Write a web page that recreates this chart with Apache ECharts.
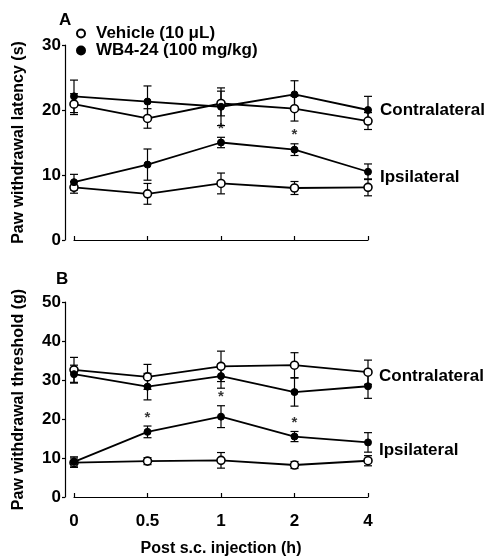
<!DOCTYPE html>
<html lang="en">
<head>
    <meta charset="UTF-8">
    <title>Paw withdrawal</title>
    <script src="https://cdn.jsdelivr.net/npm/echarts@6.0.0/dist/echarts.min.js"></script>
    <style>
        body { margin: 0; background: #fff; }
    </style>
</head>
<body>
    <div id="chart" style="width: 493px; height: 558px;"></div>

    <script>
        var chart = echarts.init(document.getElementById('chart'));

        var tempos = ['0', '0.5', '1', '2', '4'];

        // painel A - latencia (s)
        var veiContraA = [20.9, 18.7, 21.0, 20.2, 18.3];
        var veiContraAErr = [1.6, 1.5, 1.9, 1.9, 1.3];
        var wbContraA = [22.1, 21.3, 20.5, 22.4, 20.0];
        var wbContraAErr = [2.5, 2.4, 2.9, 2.1, 2.1];
        var veiIpsiA = [8.1, 7.1, 8.7, 8.0, 8.1];
        var veiIpsiAErr = [0.9, 1.6, 1.6, 1.0, 1.3];
        var wbIpsiA = [8.9, 11.6, 15.0, 13.9, 10.5];
        var wbIpsiAErr = [1.2, 2.4, 0.8, 0.9, 1.2];
        var asteriscosA = [2, 3];

        // painel B - limiar (g)
        var veiContraB = [32.6, 30.8, 33.5, 33.8, 32.0];
        var veiContraBErr = [3.2, 3.2, 3.9, 3.2, 3.1];
        var wbContraB = [31.5, 28.3, 31.0, 26.9, 28.4];
        var wbContraBErr = [2.3, 3.4, 3.1, 3.6, 3.1];
        var veiIpsiB = [8.8, 9.2, 9.4, 8.2, 9.3];
        var veiIpsiBErr = [1.2, 0.9, 2.0, 0.9, 1.3];
        var wbIpsiB = [9.0, 16.7, 20.6, 15.5, 14.0];
        var wbIpsiBErr = [1.3, 1.5, 2.8, 1.3, 2.5];
        var asteriscosB = [1, 2, 3];

        var nomeVeiculo = 'Vehicle (10 \u03bcL)';
        var nomeWB = 'WB4-24 (100 mg/kg)';
        var fonte = '"Liberation Sans", Arial, sans-serif';

        function serieLinha(nome, dados, painel, aberto) {
            return {
                name: nome,
                type: 'line',
                xAxisIndex: painel,
                yAxisIndex: painel,
                data: dados,
                symbol: 'circle',
                symbolSize: aberto ? 8 : 7,
                z: aberto ? 4 : 5,
                lineStyle: { color: '#000', width: 1.8 },
                itemStyle: aberto
                    ? { color: '#fff', borderColor: '#000', borderWidth: 1.6 }
                    : { color: '#000', borderColor: '#000', borderWidth: 1 },
                emphasis: { disabled: true },
                animation: false
            };
        }

        function serieErro(dados, erros, painel) {
            var pontos = dados.map(function (v, i) {
                return [i, v - erros[i], v + erros[i]];
            });
            return {
                type: 'custom',
                xAxisIndex: painel,
                yAxisIndex: painel,
                data: pontos,
                z: 3,
                silent: true,
                animation: false,
                renderItem: function (params, api) {
                    var baixo = api.coord([api.value(0), api.value(1)]);
                    var alto = api.coord([api.value(0), api.value(2)]);
                    var w = 4;
                    var estilo = { stroke: '#000', lineWidth: 1.2 };
                    return {
                        type: 'group',
                        children: [
                            { type: 'line', shape: { x1: alto[0], y1: alto[1], x2: baixo[0], y2: baixo[1] }, style: estilo },
                            { type: 'line', shape: { x1: alto[0] - w, y1: alto[1], x2: alto[0] + w, y2: alto[1] }, style: estilo },
                            { type: 'line', shape: { x1: baixo[0] - w, y1: baixo[1], x2: baixo[0] + w, y2: baixo[1] }, style: estilo }
                        ]
                    };
                }
            };
        }

        function serieAsterisco(indices, dados, erros, painel) {
            return {
                type: 'scatter',
                xAxisIndex: painel,
                yAxisIndex: painel,
                symbolSize: 0,
                silent: true,
                animation: false,
                data: indices.map(function (i) { return [i, dados[i] + erros[i]]; }),
                label: {
                    show: true,
                    position: 'top',
                    distance: 1,
                    formatter: '*',
                    fontSize: 15,
                    fontWeight: 'bold',
                    fontFamily: fonte,
                    color: '#000'
                }
            };
        }

        function eixoX(grade, rotulos) {
            return {
                type: 'category',
                gridIndex: grade,
                data: tempos,
                boundaryGap: false,
                offset: 10,
                axisLine: { lineStyle: { color: '#000', width: 1.2 } },
                axisTick: { inside: true, length: 4, lineStyle: { color: '#000', width: 1.2 } },
                axisLabel: {
                    show: rotulos,
                    color: '#000',
                    fontSize: 17,
                    fontWeight: 'bold',
                    fontFamily: fonte,
                    margin: 6
                },
                splitLine: { show: false },
                name: rotulos ? 'Post s.c. injection (h)' : '',
                nameLocation: 'middle',
                nameGap: 34,
                nameTextStyle: { color: '#000', fontSize: 16, fontWeight: 'bold', fontFamily: fonte }
            };
        }

        function eixoY(grade, max, nome) {
            return {
                type: 'value',
                gridIndex: grade,
                min: 0,
                max: max,
                interval: 10,
                offset: 9,
                axisLine: { show: true, lineStyle: { color: '#000', width: 1.2 } },
                axisTick: { show: true, length: 3, lineStyle: { color: '#000', width: 1.2 } },
                axisLabel: {
                    color: '#000',
                    fontSize: 17,
                    fontWeight: 'bold',
                    fontFamily: fonte,
                    margin: 4
                },
                splitLine: { show: false },
                name: nome,
                nameLocation: 'middle',
                nameGap: 38,
                nameTextStyle: { color: '#000', fontSize: 16, fontWeight: 'bold', fontFamily: fonte }
            };
        }

        function rotulo(texto, x, y) {
            return {
                type: 'text',
                left: x,
                top: y,
                style: {
                    text: texto,
                    fill: '#000',
                    font: 'bold 17px ' + fonte
                }
            };
        }

        chart.setOption({
            backgroundColor: '#fff',
            animation: false,
            grid: [
                { left: 74, right: 125, top: 45, height: 195 },
                { left: 74, right: 125, top: 302, height: 195 }
            ],
            legend: {
                data: [
                    { name: nomeVeiculo, icon: 'circle' },
                    { name: nomeWB, icon: 'circle' }
                ],
                orient: 'vertical',
                left: 76,
                top: 25,
                padding: 0,
                itemWidth: 8,
                itemHeight: 8,
                itemGap: 0,
                selectedMode: false,
                textStyle: { color: '#000', fontSize: 17, fontWeight: 'bold', fontFamily: fonte, lineHeight: 17, padding: [0, 0, 0, 6] }
            },
            xAxis: [eixoX(0, false), eixoX(1, true)],
            yAxis: [
                eixoY(0, 30, 'Paw withdrawal latency (s)'),
                eixoY(1, 50, 'Paw withdrawal threshold (g)')
            ],
            graphic: [
                rotulo('A', 59, 12),
                rotulo('B', 56, 271),
                rotulo('Contralateral', 380, 102),
                rotulo('Ipsilateral', 380, 169),
                rotulo('Contralateral', 379, 368),
                rotulo('Ipsilateral', 379, 442)
            ],
            series: [
                serieErro(veiContraA, veiContraAErr, 0),
                serieErro(wbContraA, wbContraAErr, 0),
                serieErro(veiIpsiA, veiIpsiAErr, 0),
                serieErro(wbIpsiA, wbIpsiAErr, 0),
                serieLinha(nomeVeiculo, veiContraA, 0, true),
                serieLinha(nomeWB, wbContraA, 0, false),
                serieLinha(nomeVeiculo, veiIpsiA, 0, true),
                serieLinha(nomeWB, wbIpsiA, 0, false),
                serieAsterisco(asteriscosA, wbIpsiA, wbIpsiAErr, 0),

                serieErro(veiContraB, veiContraBErr, 1),
                serieErro(wbContraB, wbContraBErr, 1),
                serieErro(veiIpsiB, veiIpsiBErr, 1),
                serieErro(wbIpsiB, wbIpsiBErr, 1),
                serieLinha(nomeVeiculo, veiContraB, 1, true),
                serieLinha(nomeWB, wbContraB, 1, false),
                serieLinha(nomeVeiculo, veiIpsiB, 1, true),
                serieLinha(nomeWB, wbIpsiB, 1, false),
                serieAsterisco(asteriscosB, wbIpsiB, wbIpsiBErr, 1)
            ]
        });
    </script>
</body>
</html>
